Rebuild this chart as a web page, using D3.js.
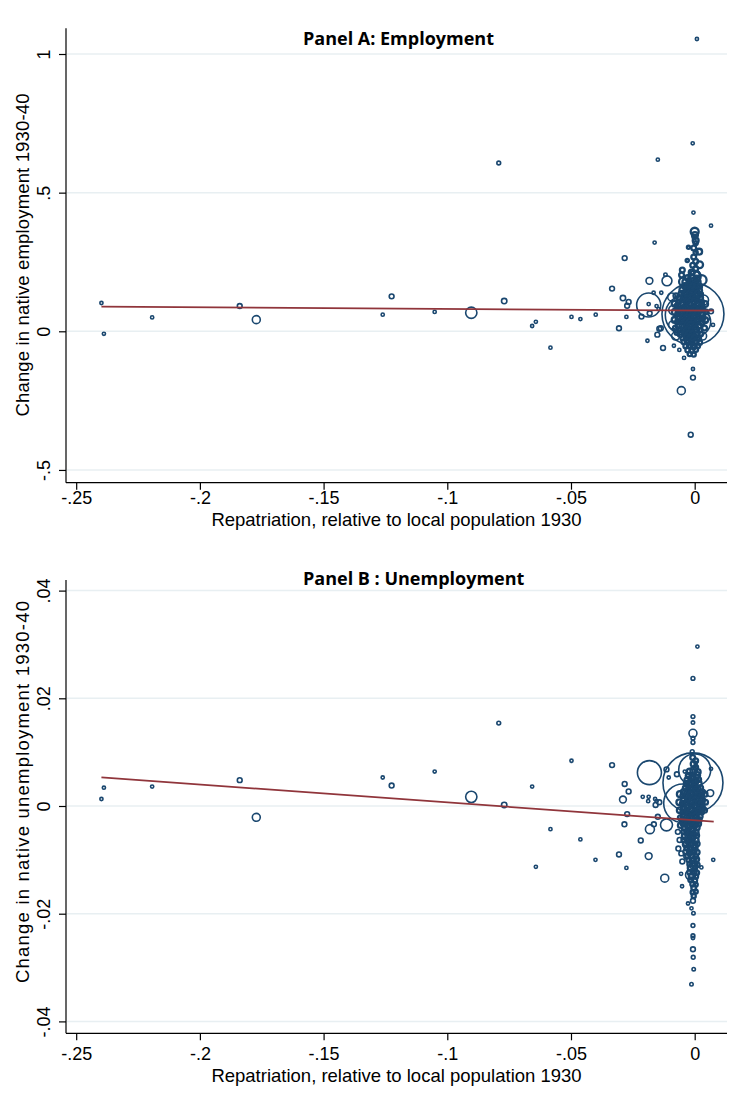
<!DOCTYPE html>
<html>
<head>
<meta charset="utf-8">
<script src="https://cdnjs.cloudflare.com/ajax/libs/d3/7.8.5/d3.min.js"></script>
<style>
  body { margin: 0; background: #fff; }
  .tick-label, .axis-title { font-family: "Liberation Sans", Arial, sans-serif; fill: #000; }
  .panel-title { font-family: "Open Sans", "Noto Sans", sans-serif; font-weight: 700; fill: #000; }
</style>
</head>
<body>
<svg id="chart" width="733" height="1102"></svg>
<script>
// ---- axis ticks ----
var xTickVals = [-0.25, -0.2, -0.15, -0.1, -0.05, 0];
var xTickText = ["-.25", "-.2", "-.15", "-.1", "-.05", "0"];
var yTickValsA = [-0.5, 0, 0.5, 1];
var yTickTextA = ["-.5", "0", ".5", "1"];
var yTickValsB = [-0.04, -0.02, 0, 0.02, 0.04];
var yTickTextB = ["-.04", "-.02", "0", ".02", ".04"];

// ---- fitted line end points [repatriation, fitted] ----
var fitA = [[-0.2398, 0.0887], [0.0077, 0.0743]];
var fitB = [[-0.2398, 0.0053], [0.0077, -0.0029]];

// ---- Panel A points: [repatriation, change in employment, pop 1930 (weight)] ----
var farA = [
  [-0.2398, 0.102, 1.8], [-0.2388, -0.009, 1.8], [-0.2193, 0.050, 1.8], [-0.1839, 0.091, 4],
  [-0.1772, 0.042, 11], [-0.1261, 0.060, 1.8], [-0.1225, 0.126, 4], [-0.1051, 0.070, 1.8],
  [-0.0903, 0.067, 22], [-0.0792, 0.607, 2.5], [-0.0770, 0.109, 5], [-0.0657, 0.019, 1.8],
  [-0.0642, 0.034, 1.8], [-0.0583, -0.059, 1.8], [-0.0498, 0.052, 1.8], [-0.0462, 0.044, 1.8],
  [-0.0400, 0.060, 1.8]
];
var nearA = [
  [-0.0334, 0.154, 4], [-0.0306, 0.011, 4], [-0.0290, 0.120, 5], [-0.0283, 0.264, 4],
  [-0.0276, 0.052, 1.8], [-0.0273, 0.092, 4], [-0.0267, 0.106, 4], [-0.0215, 0.053, 4],
  [-0.0191, -0.034, 1.8], [-0.0186, 0.095, 100], [-0.0183, 0.182, 8], [-0.0162, 0.320, 1.8],
  [-0.0151, -0.012, 4], [-0.0149, 0.619, 1.8], [-0.0143, 0.009, 4], [-0.0128, -0.060, 4],
  [-0.0118, 0.204, 2], [-0.0112, 0.182, 17], [-0.0084, -0.052, 1.8], [-0.0062, -0.067, 1.8],
  [-0.0054, -0.214, 11], [-0.0043, -0.096, 1.8], [-0.0016, -0.373, 4], [-0.0007, -0.136, 1.8],
  [-0.0007, -0.167, 4], [-0.0008, 0.678, 1.8], [0.0009, 1.054, 1.8], [-0.0005, 0.428, 1.8],
  [0.0066, 0.381, 1.8], [0.0066, 0.072, 4], [0.0074, 0.023, 1.8],
  [-0.0166, 0.139, 1.8], [-0.0135, 0.139, 1.8], [-0.0186, 0.098, 1.8], [-0.0154, 0.091, 1.8],
  [-0.0146, 0.080, 1.8], [-0.0182, 0.065, 4], [-0.0137, 0.011, 4],
  [-0.0093, 0.124, 11], [-0.0085, 0.077, 17], [-0.0089, 0.023, 11], [-0.0077, -0.017, 11],
  [0.0036, 0.113, 17], [0.0044, 0.048, 11], [0.0032, -0.017, 11]
];
var bigA = [
  [-0.0007, 0.062, 665], [-0.0038, 0.059, 277], [0.0008, 0.034, 136]
];
var coreA = [
  [0.0000, 0.359, 11], [0.0001, 0.347, 6], [0.0004, 0.327, 6], [0.0018, 0.287, 6],
  [-0.0025, 0.303, 1.8], [-0.0030, 0.255, 1.8], [0.0000, 0.197, 25], [-0.0050, 0.221, 4],
  [-0.0053, 0.203, 4], [-0.0047, 0.179, 11], [0.0020, 0.240, 8], [0.0028, 0.185, 17],
  [0.0000, 0.340, 3], [0.0004, 0.318, 3], [-0.0004, 0.300, 4], [0.0004, 0.283, 3],
  [-0.0004, 0.268, 4], [0.0004, 0.252, 4], [-0.0008, 0.238, 4], [0.0004, 0.226, 4],
  [-0.0012, 0.212, 6], [0.0008, 0.205, 6],
  [-0.0028, 0.192, 6], [-0.0012, 0.194, 8], [0.0008, 0.190, 6],
  [-0.0036, 0.178, 8], [-0.0020, 0.176, 6], [-0.0004, 0.180, 8], [0.0012, 0.177, 6],
  [-0.0040, 0.163, 6], [-0.0024, 0.165, 8], [-0.0008, 0.161, 6], [0.0008, 0.164, 8], [0.0020, 0.162, 4],
  [-0.0048, 0.149, 8], [-0.0032, 0.151, 6], [-0.0016, 0.148, 8], [0.0000, 0.150, 6], [0.0016, 0.147, 8],
  [-0.0053, 0.135, 6], [-0.0036, 0.133, 8], [-0.0020, 0.136, 6], [-0.0004, 0.134, 11], [0.0012, 0.136, 6], [0.0024, 0.133, 4],
  [-0.0061, 0.120, 6], [-0.0044, 0.122, 8], [-0.0028, 0.119, 6], [-0.0012, 0.121, 8], [0.0004, 0.118, 6], [0.0020, 0.121, 8],
  [-0.0065, 0.106, 4], [-0.0048, 0.104, 8], [-0.0032, 0.107, 6], [-0.0016, 0.105, 11], [0.0000, 0.108, 6], [0.0016, 0.104, 8], [0.0028, 0.106, 4],
  [-0.0069, 0.091, 6], [-0.0053, 0.093, 8], [-0.0036, 0.090, 6], [-0.0020, 0.092, 8], [-0.0004, 0.089, 6], [0.0012, 0.092, 8], [0.0028, 0.090, 6],
  [-0.0065, 0.077, 6], [-0.0048, 0.075, 8], [-0.0032, 0.078, 11], [-0.0016, 0.076, 6], [0.0000, 0.079, 8], [0.0016, 0.075, 6], [0.0032, 0.077, 4],
  [-0.0069, 0.062, 4], [-0.0053, 0.064, 6], [-0.0036, 0.061, 8], [-0.0020, 0.063, 6], [-0.0004, 0.060, 11], [0.0012, 0.063, 6], [0.0028, 0.061, 8],
  [-0.0065, 0.048, 6], [-0.0048, 0.046, 8], [-0.0032, 0.049, 6], [-0.0016, 0.047, 8], [0.0000, 0.050, 6], [0.0016, 0.046, 8], [0.0032, 0.048, 4],
  [-0.0069, 0.034, 4], [-0.0053, 0.036, 6], [-0.0036, 0.033, 8], [-0.0020, 0.035, 6], [-0.0004, 0.032, 8], [0.0012, 0.035, 6], [0.0028, 0.033, 6],
  [-0.0065, 0.019, 6], [-0.0048, 0.021, 8], [-0.0032, 0.018, 6], [-0.0016, 0.020, 11], [0.0000, 0.017, 6], [0.0016, 0.020, 6],
  [-0.0061, 0.005, 4], [-0.0044, 0.003, 6], [-0.0028, 0.006, 8], [-0.0012, 0.004, 6], [0.0004, 0.007, 8], [0.0020, 0.004, 4],
  [-0.0057, -0.010, 6], [-0.0040, -0.008, 6], [-0.0024, -0.011, 8], [-0.0008, -0.009, 6], [0.0008, -0.012, 6], [0.0024, -0.010, 4],
  [-0.0048, -0.024, 4], [-0.0032, -0.022, 6], [-0.0016, -0.025, 8], [0.0000, -0.023, 6], [0.0016, -0.026, 4],
  [-0.0044, -0.038, 4], [-0.0028, -0.036, 6], [-0.0012, -0.039, 6], [0.0004, -0.037, 6], [0.0020, -0.040, 4],
  [-0.0036, -0.053, 4], [-0.0020, -0.051, 6], [-0.0004, -0.054, 6], [0.0012, -0.052, 4],
  [-0.0028, -0.067, 4], [-0.0012, -0.069, 4], [0.0004, -0.066, 4],
  [-0.0020, -0.082, 3], [-0.0004, -0.084, 3],
  [-0.0081, 0.099, 6], [-0.0080, 0.070, 6], [-0.0081, 0.041, 6], [-0.0078, 0.012, 4],
  [0.0042, 0.098, 6], [0.0044, 0.070, 4], [0.0042, 0.040, 6], [0.0040, 0.012, 4],
  [-0.0076, 0.128, 4], [-0.0072, -0.004, 4]
];

// ---- Panel B points: [repatriation, change in unemployment, pop 1930 (weight)] ----
var farB = [
  [-0.2398, 0.0013, 1.8], [-0.2388, 0.0034, 1.8], [-0.2193, 0.0036, 1.8], [-0.1839, 0.0048, 4],
  [-0.1772, -0.0021, 11], [-0.1261, 0.0053, 1.8], [-0.1225, 0.0038, 4], [-0.1051, 0.0064, 1.8],
  [-0.0903, 0.0017, 22], [-0.0792, 0.0154, 2.5], [-0.0770, 0.0002, 5], [-0.0657, 0.0036, 1.8],
  [-0.0642, -0.0113, 1.8], [-0.0583, -0.0043, 1.8], [-0.0498, 0.0084, 1.8], [-0.0462, -0.0062, 1.8],
  [-0.0401, -0.0100, 1.8]
];
var nearB = [
  [-0.0334, 0.0076, 4], [-0.0306, -0.0090, 4], [-0.0290, 0.0012, 8], [-0.0284, -0.0034, 4],
  [-0.0283, 0.0041, 4], [-0.0276, -0.0115, 1.8], [-0.0273, -0.0015, 4], [-0.0267, 0.0027, 4],
  [-0.0218, -0.0064, 4], [-0.0186, -0.0093, 8], [-0.0183, 0.0062, 100], [-0.0181, -0.0043, 14],
  [-0.0121, -0.0134, 11], [-0.0114, -0.0035, 25], [0.0066, 0.0069, 1.8], [0.0063, 0.0024, 8],
  [0.0075, -0.0100, 1.8], [0.0027, -0.0114, 1.8], [-0.0051, -0.0149, 1.8], [-0.0055, -0.0126, 1.8],
  [0.0011, 0.0296, 1.8], [-0.0007, 0.0237, 2.5], [-0.0007, 0.0166, 2.5], [-0.0007, 0.0155, 2],
  [-0.0007, 0.0135, 11], [-0.0007, 0.0126, 2.5], [-0.0007, 0.0118, 2.5], [-0.0010, 0.0101, 2.5],
  [-0.0007, -0.0176, 4], [-0.0027, -0.0181, 1.8], [-0.0013, -0.0190, 1.8], [-0.0005, -0.0199, 2],
  [-0.0007, -0.0222, 2.5], [-0.0007, -0.0241, 2.5], [-0.0007, -0.0245, 2], [-0.0007, -0.0266, 4],
  [-0.0006, -0.0281, 2.5], [-0.0004, -0.0303, 2], [-0.0013, -0.0331, 2],
  [-0.0210, 0.0017, 1.8], [-0.0186, 0.0017, 1.8], [-0.0188, 0.0009, 1.8], [-0.0160, 0.0013, 1.8],
  [-0.0154, 0.0009, 1.8], [-0.0158, 0.0002, 4], [-0.0143, 0.0007, 4],
  [-0.0114, 0.0068, 4], [-0.0105, 0.0053, 1.8], [-0.0072, 0.0059, 4], [-0.0040, 0.0064, 1.8],
  [-0.0149, -0.0020, 4], [-0.0165, -0.0034, 4],
  [-0.0068, -0.0048, 4], [-0.0061, -0.0063, 4], [-0.0066, -0.0079, 4], [-0.0054, -0.0088, 4],
  [-0.0050, -0.0103, 4], [-0.0034, -0.0094, 4], [-0.0036, -0.0069, 4],
  [-0.0017, -0.0128, 17], [-0.0004, -0.0110, 11]
];
var bigB = [
  [-0.0007, 0.0043, 623], [0.0000, 0.0067, 177], [-0.0047, 0.0005, 260]
];
var coreB = [
  [-0.0008, 0.0090, 4], [0.0004, 0.0084, 4], [-0.0004, 0.0078, 6], [0.0004, 0.0072, 4],
  [-0.0020, 0.0064, 6], [-0.0004, 0.0066, 8], [0.0012, 0.0063, 6],
  [-0.0024, 0.0056, 6], [-0.0008, 0.0054, 6], [0.0008, 0.0057, 8],
  [-0.0028, 0.0048, 8], [-0.0012, 0.0050, 6], [0.0004, 0.0047, 6], [0.0016, 0.0049, 4],
  [-0.0032, 0.0041, 6], [-0.0016, 0.0043, 8], [0.0000, 0.0040, 6], [0.0016, 0.0042, 6],
  [-0.0036, 0.0033, 6], [-0.0020, 0.0031, 6], [-0.0004, 0.0034, 8], [0.0012, 0.0032, 6], [0.0024, 0.0034, 4],
  [-0.0044, 0.0026, 6], [-0.0028, 0.0027, 8], [-0.0012, 0.0025, 6], [0.0004, 0.0027, 8], [0.0020, 0.0025, 6], [0.0032, 0.0026, 4],
  [-0.0048, 0.0019, 4], [-0.0032, 0.0018, 6], [-0.0016, 0.0020, 8], [0.0000, 0.0018, 6], [0.0016, 0.0020, 6], [0.0028, 0.0019, 4],
  [-0.0044, 0.0011, 6], [-0.0028, 0.0012, 6], [-0.0012, 0.0010, 8], [0.0004, 0.0012, 6], [0.0020, 0.0010, 8], [0.0032, 0.0011, 4],
  [-0.0048, 0.0004, 6], [-0.0032, 0.0003, 8], [-0.0016, 0.0005, 6], [0.0000, 0.0003, 8], [0.0016, 0.0005, 6], [0.0028, 0.0004, 6],
  [-0.0044, -0.0004, 6], [-0.0028, -0.0003, 6], [-0.0012, -0.0005, 8], [0.0004, -0.0003, 6], [0.0020, -0.0005, 6], [0.0032, -0.0004, 4],
  [-0.0048, -0.0011, 4], [-0.0032, -0.0012, 6], [-0.0016, -0.0010, 8], [0.0000, -0.0012, 6], [0.0016, -0.0010, 8], [0.0028, -0.0011, 4],
  [-0.0044, -0.0019, 6], [-0.0028, -0.0018, 8], [-0.0012, -0.0020, 6], [0.0004, -0.0018, 6], [0.0020, -0.0019, 6],
  [-0.0048, -0.0026, 6], [-0.0032, -0.0027, 6], [-0.0016, -0.0025, 8], [0.0000, -0.0027, 6], [0.0016, -0.0026, 6],
  [-0.0044, -0.0033, 6], [-0.0028, -0.0034, 8], [-0.0012, -0.0032, 6], [0.0004, -0.0034, 6], [0.0016, -0.0033, 4],
  [-0.0040, -0.0041, 6], [-0.0024, -0.0040, 6], [-0.0008, -0.0042, 8], [0.0008, -0.0040, 6],
  [-0.0044, -0.0048, 4], [-0.0028, -0.0049, 6], [-0.0012, -0.0047, 8], [0.0004, -0.0049, 6],
  [-0.0040, -0.0056, 6], [-0.0024, -0.0055, 8], [-0.0008, -0.0057, 6], [0.0008, -0.0055, 4],
  [-0.0044, -0.0063, 4], [-0.0028, -0.0064, 6], [-0.0012, -0.0062, 6], [0.0004, -0.0064, 6],
  [-0.0036, -0.0071, 6], [-0.0020, -0.0070, 6], [-0.0004, -0.0072, 8], [0.0010, -0.0070, 4],
  [-0.0032, -0.0078, 4], [-0.0016, -0.0079, 6], [0.0000, -0.0077, 6],
  [-0.0036, -0.0085, 4], [-0.0020, -0.0086, 6], [-0.0004, -0.0084, 6], [0.0010, -0.0086, 4],
  [-0.0028, -0.0093, 4], [-0.0012, -0.0092, 6], [0.0004, -0.0094, 4],
  [-0.0024, -0.0100, 4], [-0.0008, -0.0101, 6], [0.0008, -0.0099, 4],
  [-0.0020, -0.0108, 4], [-0.0004, -0.0107, 6], [0.0010, -0.0109, 4],
  [-0.0016, -0.0115, 6], [0.0000, -0.0116, 4],
  [-0.0020, -0.0123, 4], [-0.0004, -0.0122, 6], [0.0008, -0.0124, 4],
  [-0.0012, -0.0130, 6], [0.0004, -0.0131, 4],
  [-0.0016, -0.0137, 4], [0.0000, -0.0138, 4],
  [-0.0008, -0.0145, 4], [0.0004, -0.0146, 3],
  [-0.0004, -0.0152, 4],
  [-0.0008, -0.0160, 3], [0.0004, -0.0159, 3],
  [-0.0004, -0.0167, 3],
  [-0.0060, 0.0022, 6], [-0.0062, 0.0007, 6], [-0.0060, -0.0008, 6], [-0.0058, -0.0022, 4],
  [0.0042, 0.0022, 4], [0.0044, 0.0007, 4], [0.0040, -0.0008, 4], [-0.0058, -0.0036, 4]
];

var navy = "#1a476f";
var maroon = "#90353b";
var gridColor = "#e8eff2";

var svg = d3.select("#chart");
svg.append("rect").attr("width", 733).attr("height", 1102).attr("fill", "#fff");

var x = d3.scaleLinear().domain([-0.25412, 0.01306]).range([66, 727]);
var rScale = d3.scaleSqrt().domain([0, 1000]).range([0, 38]);

var panels = [
  {
    title: "Panel A: Employment", titleY: 45,
    ytitle: "Change in native employment 1930-40", ytitleY: 255, ytitleLen: 323,
    yDomain: [-0.546, 1.0927], yRange: [482.7, 28.3],
    yTicks: yTickValsA, yText: yTickTextA,
    xLabelDy: 21, xTitleDy: 43,
    points: [farA, nearA, bigA], core: coreA, fit: fitA
  },
  {
    title: "Panel B : Unemployment", titleY: 585,
    ytitle: "Change in native unemployment 1930-40", ytitleY: 792, ytitleLen: 382,
    yDomain: [-0.04221, 0.04197], yRange: [1033.3, 580],
    yTicks: yTickValsB, yText: yTickTextB,
    xLabelDy: 27, xTitleDy: 49,
    points: [farB, nearB, bigB], core: coreB, fit: fitB
  }
];

panels.forEach(function(p) {
  var y = d3.scaleLinear().domain(p.yDomain).range(p.yRange);
  var g = svg.append("g");
  var bottom = p.yRange[0];

  // grid
  g.append("g").selectAll("line")
    .data(p.yTicks)
    .enter().append("line")
    .attr("x1", 67).attr("x2", 727)
    .attr("y1", function(d) { return y(d); })
    .attr("y2", function(d) { return y(d); })
    .attr("stroke", gridColor).attr("stroke-width", 1.5);

  // points (hollow circles sized by 1930 population)
  function drawPts(data, sw) {
    g.append("g").selectAll("circle")
      .data(data)
      .enter().append("circle")
      .attr("cx", function(d) { return x(d[0]); })
      .attr("cy", function(d) { return y(d[1]); })
      .attr("r", function(d) { return Math.max(1.6, rScale(d[2])); })
      .attr("fill", "none")
      .attr("stroke", navy)
      .attr("stroke-width", sw);
  }
  drawPts([].concat(p.points[0], p.points[1], p.points[2]), 1.6);
  drawPts(p.core, 2.3);   // the dense pile near zero

  // fitted line
  g.append("path")
    .datum(p.fit)
    .attr("d", d3.line().x(function(d) { return x(d[0]); }).y(function(d) { return y(d[1]); }))
    .attr("stroke", maroon).attr("stroke-width", 1.8).attr("fill", "none");

  // x axis
  var xAxis = d3.axisBottom(x).tickValues(xTickVals)
    .tickFormat(function(d, i) { return xTickText[i]; })
    .tickSize(7).tickSizeOuter(0);
  var xg = g.append("g").attr("transform", "translate(0," + bottom + ")").call(xAxis);
  xg.select(".domain").attr("d", "M66,0H727").attr("stroke", "#000").attr("stroke-width", 1.2);
  xg.selectAll(".tick line").attr("stroke", "#000").attr("stroke-width", 1.2);
  xg.selectAll(".tick text").attr("class", "tick-label").attr("font-size", 18)
    .attr("dy", null).attr("y", p.xLabelDy);

  // y axis
  var yAxis = d3.axisLeft(y).tickValues(p.yTicks)
    .tickFormat(function(d, i) { return p.yText[i]; })
    .tickSize(7).tickSizeOuter(0);
  var yg = g.append("g").attr("transform", "translate(66,0)").call(yAxis);
  yg.select(".domain").attr("d", "M0," + p.yRange[1] + "V" + p.yRange[0])
    .attr("stroke", "#000").attr("stroke-width", 1.2);
  yg.selectAll(".tick line").attr("stroke", "#000").attr("stroke-width", 1.2);
  yg.selectAll(".tick text").attr("class", "tick-label").attr("font-size", 18)
    .attr("text-anchor", "middle").attr("dy", null).attr("x", 0).attr("y", -16)
    .attr("transform", "rotate(-90)");

  // titles
  g.append("text").attr("class", "panel-title")
    .attr("x", 303).attr("y", p.titleY).attr("font-size", 18)
    .text(p.title);
  g.append("text").attr("class", "axis-title")
    .attr("x", 396.5).attr("y", bottom + p.xTitleDy).attr("text-anchor", "middle").attr("font-size", 18.5)
    .text("Repatriation, relative to local population 1930");
  g.append("text").attr("class", "axis-title")
    .attr("transform", "translate(29," + p.ytitleY + ") rotate(-90)")
    .attr("text-anchor", "middle").attr("font-size", 18.5)
    .attr("textLength", p.ytitleLen).attr("lengthAdjust", "spacing")
    .text(p.ytitle);
});
</script>
</body>
</html>
